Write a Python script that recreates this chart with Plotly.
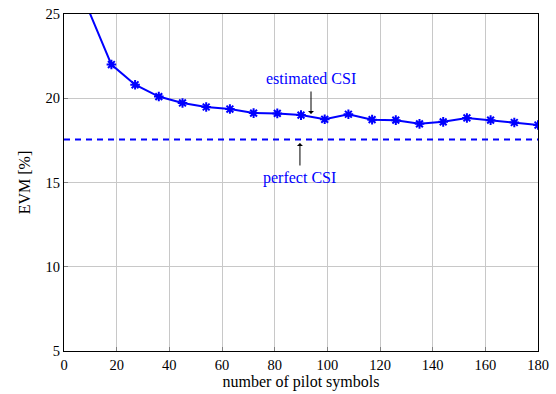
import plotly.graph_objects as go

pilots = [9, 18, 27, 36, 45, 54, 63, 72, 81, 90, 99, 108, 117, 126, 135, 144, 153, 162, 171, 180]
evm_est = [25.35, 22.0, 20.8, 20.1, 19.72, 19.48, 19.36, 19.12, 19.1, 19.0, 18.75, 19.05, 18.73, 18.7, 18.48, 18.6, 18.83, 18.7, 18.56, 18.41]
evm_perfect = 17.55
x_range = [0, 180]
y_range = [5, 25]
x_ticks = [0, 20, 40, 60, 80, 100, 120, 140, 160, 180]
y_ticks = [5, 10, 15, 20, 25]

FONT = "Liberation Serif"
FS = 16
TFS = 14.5
BLUE = "#0000ff"

fig = go.Figure()
fig.add_trace(go.Scatter(x=x_range, y=[evm_perfect, evm_perfect], mode="lines",
                         line=dict(color=BLUE, width=2, dash="6px,5px"), showlegend=False,
                         cliponaxis=True))
fig.add_trace(go.Scatter(x=pilots, y=evm_est, mode="lines+markers",
                         line=dict(color=BLUE, width=2),
                         marker=dict(symbol="asterisk-open", size=8, color=BLUE,
                                     line=dict(color=BLUE, width=2)),
                         showlegend=False, cliponaxis=True))

fig.add_annotation(x=93.8, y=19.07, ax=93.8, ay=20.49, xref="x", yref="y", axref="x", ayref="y",
                   text="", showarrow=True, arrowhead=1, arrowsize=1, arrowwidth=1, arrowcolor="black")
fig.add_annotation(x=89.6, y=17.34, ax=89.6, ay=15.92, xref="x", yref="y", axref="x", ayref="y",
                   text="", showarrow=True, arrowhead=1, arrowsize=1, arrowwidth=1, arrowcolor="black")
fig.add_annotation(x=93.8, y=21.2, text="estimated CSI", showarrow=False,
                   font=dict(family=FONT, size=FS, color=BLUE))
fig.add_annotation(x=89.6, y=15.27, text="perfect CSI", showarrow=False,
                   font=dict(family=FONT, size=FS, color=BLUE))

axis_common = dict(showgrid=True, gridcolor="#c8c8c8", gridwidth=1, showline=True, linecolor="black",
                   linewidth=1.2, mirror=True, ticks="inside", ticklen=4, tickcolor="#808080",
                   zeroline=False, automargin=False, tickfont=dict(family=FONT, size=TFS, color="black"))
fig.update_xaxes(range=x_range, tickvals=x_ticks, title=dict(text="number of pilot symbols",
                 font=dict(family=FONT, size=FS, color="black"), standoff=4), **axis_common)
fig.update_yaxes(range=y_range, tickvals=y_ticks, title=dict(text="EVM [%]",
                 font=dict(family=FONT, size=FS, color="black"), standoff=10), **axis_common)

fig.update_layout(width=556, height=394, margin=dict(l=64, r=18, t=14, b=43),
                  plot_bgcolor="white", paper_bgcolor="white",
                  font=dict(family=FONT, size=FS, color="black"))
fig.write_html("out.html")
